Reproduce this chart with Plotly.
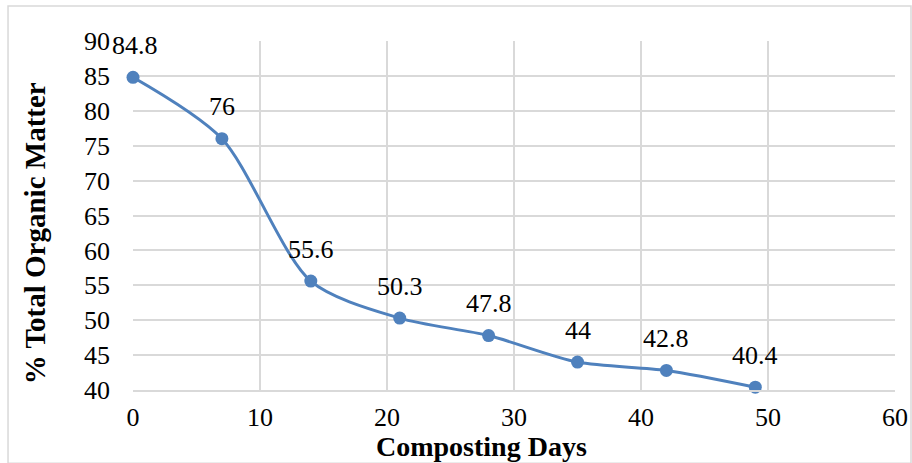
import plotly.graph_objects as go

days = [0, 7, 14, 21, 28, 35, 42, 49]
organic_matter = [84.8, 76, 55.6, 50.3, 47.8, 44, 42.8, 40.4]
labels = ["84.8", "76", "55.6", "50.3", "47.8", "44", "42.8", "40.4"]
x_title = "Composting Days"
y_title = "% Total Organic Matter"

FONT = "Liberation Serif, Times New Roman, serif"
BLUE = "#4F81BD"

fig = go.Figure()
fig.add_trace(go.Scatter(
    x=days, y=organic_matter, mode="lines+markers",
    line=dict(color=BLUE, width=3, shape="spline", smoothing=0.8),
    marker=dict(color=BLUE, size=13),
    cliponaxis=False, showlegend=False,
))

for i, (d, v, t) in enumerate(zip(days, organic_matter, labels)):
    fig.add_annotation(x=d, y=v, text=t, showarrow=False, yshift=32,
                       xshift=2 if i == 0 else 0,
                       font=dict(family=FONT, size=26, color="black"))

fig.add_annotation(xref="paper", yref="paper", x=0.457, y=-0.162,
                   text=f"<b>{x_title}</b>", showarrow=False,
                   xanchor="center", yanchor="middle",
                   font=dict(family=FONT, size=28, color="black"))
fig.add_annotation(xref="paper", yref="paper", x=-0.129, y=0.448,
                   text=f"<b>{y_title}</b>", showarrow=False, textangle=-90,
                   xanchor="center", yanchor="middle",
                   font=dict(family=FONT, size=29, color="black"))

fig.add_shape(type="rect", xref="paper", yref="paper",
              x0=-0.164, x1=1.021, y0=-0.21, y1=1.1,
              line=dict(color="#D9D9D9", width=1.5), layer="below")

fig.update_layout(
    width=912, height=463,
    margin=dict(l=133, r=17, t=41, b=73),
    paper_bgcolor="white", plot_bgcolor="white",
    font=dict(family=FONT, size=26, color="black"),
    xaxis=dict(range=[0, 60], dtick=10, showgrid=True, gridcolor="#D9D9D9",
               gridwidth=1.5, zeroline=False, showline=True, linecolor="#D9D9D9",
               linewidth=1.5, ticks="", ticklabelstandoff=3, automargin=False,
               tickfont=dict(family=FONT, size=26)),
    yaxis=dict(range=[40, 90], dtick=5, showgrid=True, gridcolor="#D9D9D9",
               gridwidth=1.5, zeroline=False, showline=False, ticks="",
               automargin=False,
               ticklabelstandoff=22, tickfont=dict(family=FONT, size=26)),
)

fig.write_html("out.html")
